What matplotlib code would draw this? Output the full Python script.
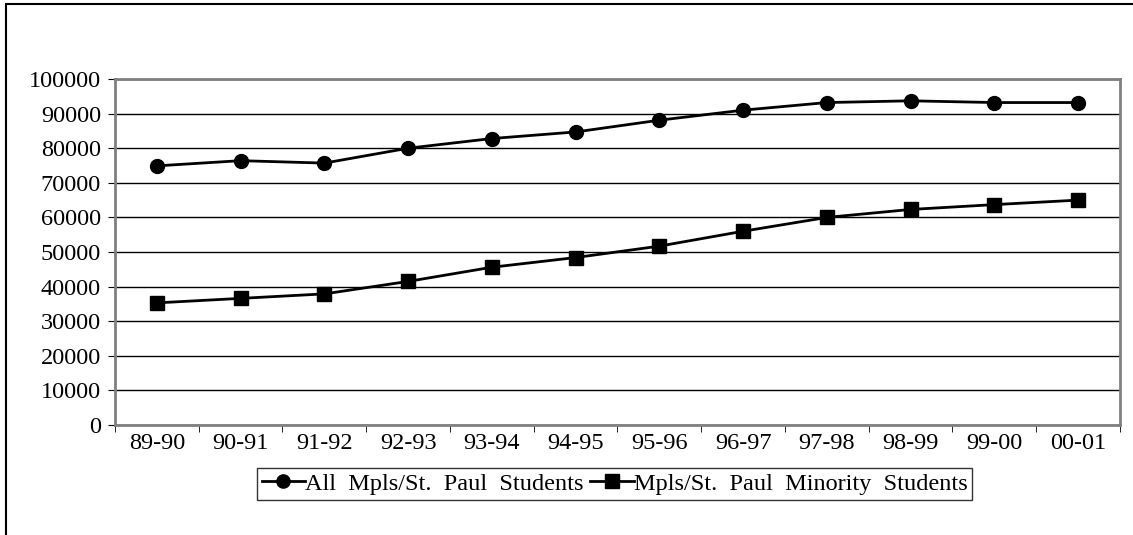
import matplotlib
matplotlib.use("Agg")
import matplotlib.pyplot as plt
from matplotlib.patches import Rectangle

plt.rcParams['font.family'] = ['Liberation Serif', 'DejaVu Serif']

# 学年
years = ["89-90", "90-91", "91-92", "92-93", "93-94", "94-95",
         "95-96", "96-97", "97-98", "98-99", "99-00", "00-01"]
# 生徒数
all_students = [74900, 76400, 75700, 80000, 82800, 84700,
                88100, 91000, 93200, 93700, 93200, 93200]
minority_students = [35300, 36600, 37900, 41500, 45600, 48400,
                     51700, 56000, 60000, 62300, 63700, 65000]

fig = plt.figure(figsize=(11.33, 5.35), dpi=100)
ax = fig.add_axes([0.1015, 0.2056, 0.887, 0.6467])

x = list(range(len(years)))
ax.plot(x, all_students, color="black", lw=2, marker="o", ms=10,
        label="All  Mpls/St.  Paul  Students")
ax.plot(x, minority_students, color="black", lw=2, marker="s", ms=10.5,
        label="Mpls/St.  Paul  Minority  Students")

ax.set_xlim(-0.5, len(years) - 0.5)
ax.set_ylim(0, 100000)
ax.set_yticks(range(0, 100001, 10000))
ax.set_yticklabels([str(v) for v in range(0, 100001, 10000)], fontsize=17.5)
ax.set_xticks(x)
ax.set_xticklabels(years, fontsize=17.5)
ax.set_xticks([i - 0.5 for i in range(len(years) + 1)], minor=True)
ax.tick_params(axis="x", which="major", length=0, pad=6)
ax.tick_params(axis="x", which="minor", length=5, direction="out", color="black")
ax.tick_params(axis="y", length=5, direction="out", color="black", pad=5)
ax.grid(axis="y", color="black", lw=1)
for s in ax.spines.values():
    s.set_color("#808080")
    s.set_linewidth(2)

leg = ax.legend(loc="upper center", bbox_to_anchor=(0.497, -0.124), ncol=2,
                frameon=True, fancybox=False, edgecolor="black", fontsize=17.5,
                handlelength=1.8, handletextpad=0.0, columnspacing=0.25,
                borderpad=0.2, borderaxespad=0, markerscale=0.95)
leg.get_frame().set_linewidth(1)

fig.patches.append(Rectangle((6 / 1133, -0.1), 1.2, 1 - 4 / 535 + 0.1,
                             transform=fig.transFigure, fill=False,
                             edgecolor="black", lw=1.5))

fig.savefig("out.png", dpi=100)
